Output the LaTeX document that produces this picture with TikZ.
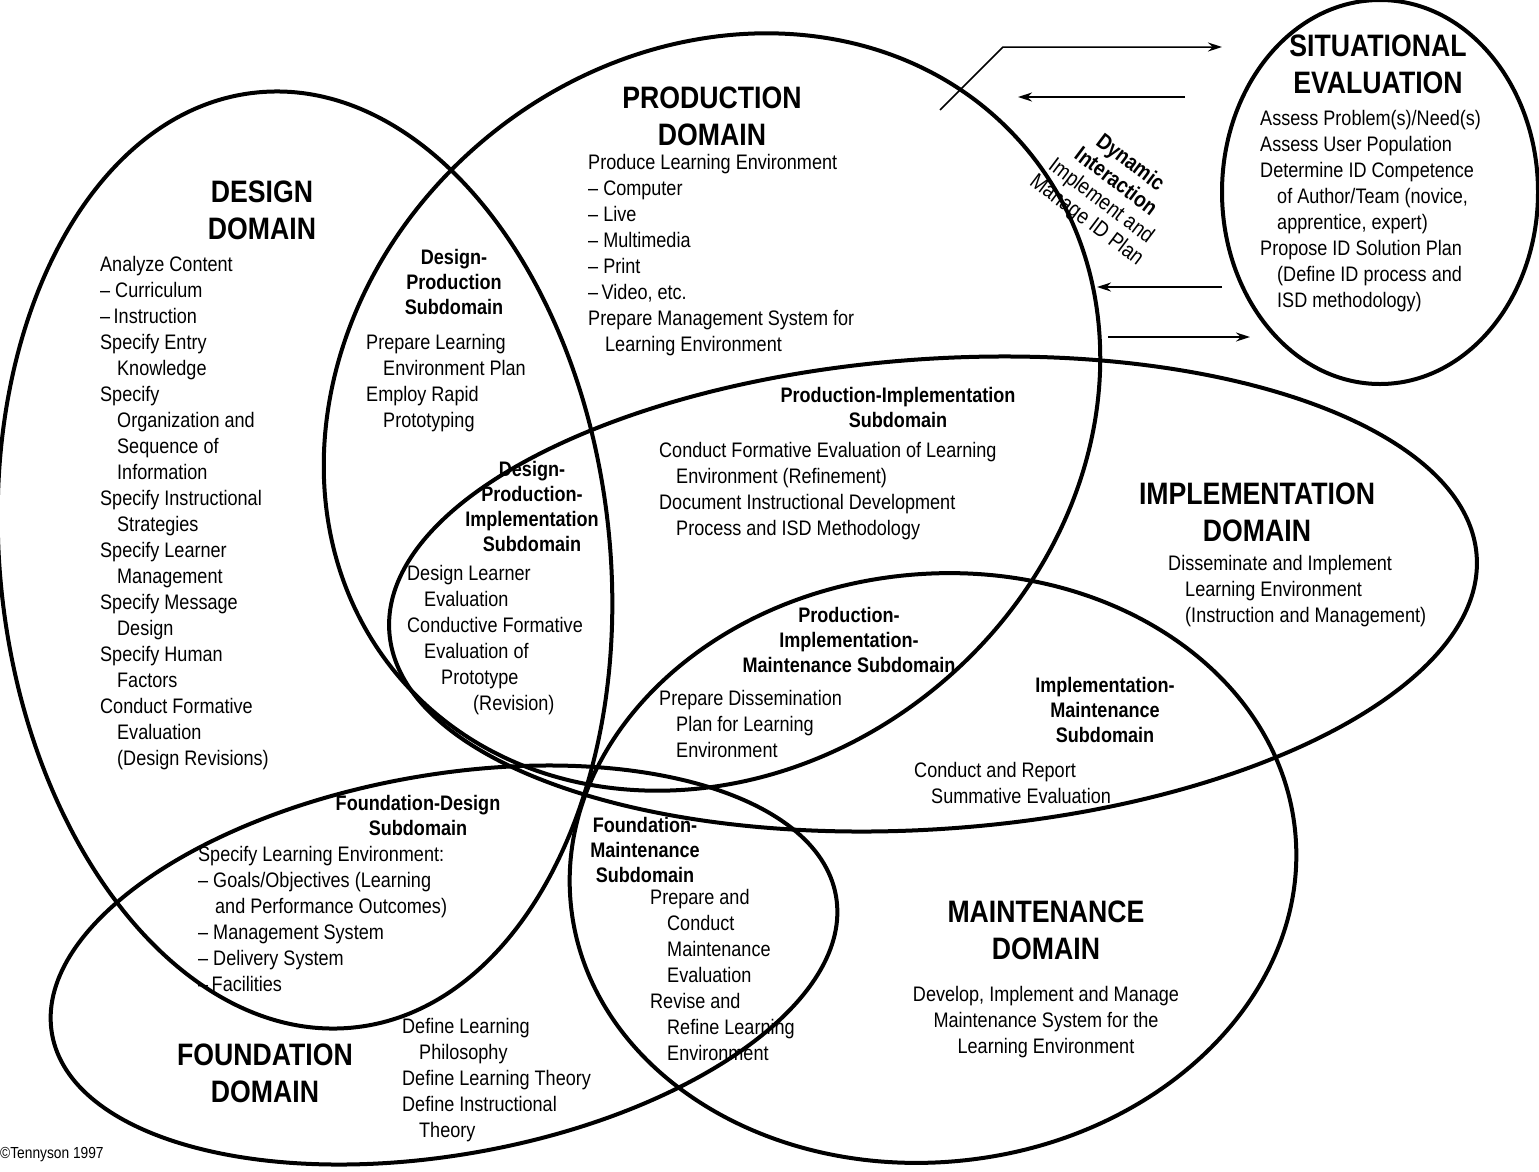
\documentclass[tikz,border=0pt]{standalone}
\usepackage{fontspec}
\usetikzlibrary{arrows.meta}
\setmainfont{Liberation Sans}[FakeStretch=0.86]
\newcommand\ind{\hspace*{17pt}}
\begin{document}
\begin{tikzpicture}[x=1pt,y=-1pt,
 dom/.style={line width=4pt},
 ttl/.style={font=\fontsize{31}{37}\selectfont\bfseries,align=center,inner sep=0},
 sub/.style={font=\fontsize{21}{25}\selectfont\bfseries,align=center,inner sep=0},
 txt/.style={font=\fontsize{21}{26}\selectfont,align=left,anchor=north west,inner sep=0},
 arr/.style={line width=1.5pt,-{Stealth[length=14pt,width=9pt]}}]
\useasboundingbox (0,0) rectangle (1539,1171);
\draw[dom,rotate around={6:(305,560)}] (305,560) ellipse[x radius=305,y radius=470];
\draw[dom,rotate around={40:(712,412)}] (712,412) ellipse[x radius=410,y radius=355];
\draw[dom,rotate around={4:(933,594)}] (933,594) ellipse[x radius=545,y radius=235];
\draw[dom,rotate around={6:(933,868)}] (933,868) ellipse[x radius=364,y radius=294];
\draw[dom,rotate around={10:(444,965)}] (444,965) ellipse[x radius=398,y radius=190];
\draw[dom] (1380,192) ellipse[x radius=158,y radius=192];
% arrows
\coordinate (a1) at (940,110); \coordinate (a2) at (1003,47); \coordinate (a3) at (1222,47);
\draw[arr] (a1) -- (a2) -- (a3);
\coordinate (b1) at (1185,97); \coordinate (b2) at (1018,97); \draw[arr] (b1) -- (b2);
\coordinate (c1) at (1222,287); \coordinate (c2) at (1097,287); \draw[arr] (c1) -- (c2);
\coordinate (d1) at (1108,337); \coordinate (d2) at (1250,337); \draw[arr] (d1) -- (d2);
\node[rotate=-37,align=center,inner sep=0,font=\fontsize{22}{24}\selectfont] (dyn) at (1108,192) {\bfseries Dynamic\\\bfseries Interaction\\\mdseries Implement and\\\mdseries Manage ID Plan};
% titles
\node[ttl] (t1) at (262,210) {DESIGN\\DOMAIN};
\node[ttl] (t2) at (712,116) {PRODUCTION\\DOMAIN};
\node[ttl] (t3) at (1257,512) {IMPLEMENTATION\\DOMAIN};
\node[ttl] (t4) at (1046,930) {MAINTENANCE\\DOMAIN};
\node[ttl] (t5) at (265,1073) {FOUNDATION\\DOMAIN};
\node[ttl] (t6) at (1378,64) {SITUATIONAL\\EVALUATION};
% subdomains
\node[sub] (s1) at (454,282) {Design-\\Production\\Subdomain};
\node[sub] (s2) at (898,407) {Production-Implementation\\Subdomain};
\node[sub] (s3) at (532,506) {Design-\\Production-\\Implementation\\Subdomain};
\node[sub] (s4) at (849,640) {Production-\\Implementation-\\Maintenance Subdomain};
\node[sub] (s5) at (1105,710) {Implementation-\\Maintenance\\Subdomain};
\node[sub] (s6) at (418,815) {Foundation-Design\\Subdomain};
\node[sub] (s7) at (645,850) {Foundation-\\Maintenance\\Subdomain};
% texts
\node[txt] (x1) at (100,256) {Analyze Content\\– Curriculum\\–\,Instruction\\Specify Entry\\\ind Knowledge\\Specify\\\ind Organization and\\\ind Sequence of\\\ind Information\\Specify Instructional\\\ind Strategies\\Specify Learner\\\ind Management\\Specify Message\\\ind Design\\Specify Human\\\ind Factors\\Conduct Formative\\\ind Evaluation\\\ind (Design Revisions)};
\node[txt] (x2) at (588,154) {Produce Learning Environment\\– Computer\\– Live\\– Multimedia\\– Print\\–\,Video, etc.\\Prepare Management System for\\\ind Learning Environment};
\node[txt] (x3) at (366,334) {Prepare Learning\\\ind Environment Plan\\Employ Rapid\\\ind Prototyping};
\node[txt] (x4) at (659,442) {Conduct Formative Evaluation of Learning\\\ind Environment (Refinement)\\Document Instructional Development\\\ind Process and ISD Methodology};
\node[txt] (x5) at (407,565) {Design Learner\\\ind Evaluation\\Conductive Formative\\\ind Evaluation of\\\ind\ind Prototype\\\hspace*{66pt}(Revision)};
\node[txt] (x6) at (1168,555) {Disseminate and Implement\\\ind Learning Environment\\\ind (Instruction and Management)};
\node[txt] (x7) at (659,690) {Prepare Dissemination\\\ind Plan for Learning\\\ind Environment};
\node[txt] (x8) at (914,762) {Conduct and Report\\\ind Summative Evaluation};
\node[txt] (x9) at (198,846) {Specify Learning Environment:\\– Goals/Objectives (Learning\\\ind and Performance Outcomes)\\– Management System\\– Delivery System\\–\,Facilities};
\node[txt] (x10) at (650,889) {Prepare and\\\ind Conduct\\\ind Maintenance\\\ind Evaluation\\Revise and\\\ind Refine Learning\\\ind Environment};
\node[txt,anchor=north,align=center] (x11) at (1046,986) {Develop, Implement and Manage\\Maintenance System for the\\Learning Environment};
\node[txt] (x12) at (402,1018) {Define Learning\\\ind Philosophy\\Define Learning Theory\\Define Instructional\\\ind Theory};
\node[txt] (x13) at (1260,110) {Assess Problem(s)/Need(s)\\Assess User Population\\Determine ID Competence\\\ind of Author/Team (novice,\\\ind apprentice, expert)\\Propose ID Solution Plan\\\ind (Define ID process and\\\ind ISD methodology)};
\node[font=\fontsize{16}{18}\selectfont,anchor=west,inner sep=0] (cp) at (0,1155) {©Tennyson 1997};
\end{tikzpicture}
\end{document}
